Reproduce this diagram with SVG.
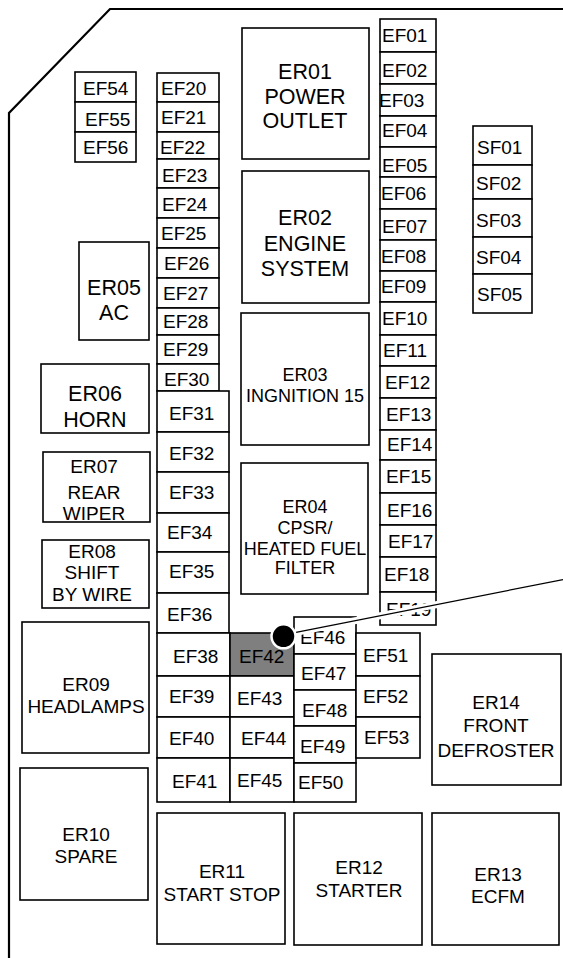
<svg xmlns="http://www.w3.org/2000/svg" width="563" height="958" viewBox="0 0 563 958">
<style>
.b{fill:#fff;stroke:#000;stroke-width:1.6}
.g{fill:#7f7f7f;stroke:#000;stroke-width:1.6}
.t{font-family:"Liberation Sans",Arial,sans-serif;font-size:19px;fill:#000}
.c{text-anchor:middle}
.l{font-size:21.5px}
.m{font-size:18px}
.o{fill:none;stroke:#000;stroke-width:2.2}
</style>
<rect width="563" height="958" fill="#fff"/>
<polyline class="o" points="9,958 9,113 110,9 563,9"/>
<g id="EF54"><rect class="b" x="75" y="72" width="61" height="30"/><text class="t" x="83" y="95">EF54</text></g>
<g id="EF55"><rect class="b" x="75" y="102" width="61" height="30"/><text class="t" x="85" y="126">EF55</text></g>
<g id="EF56"><rect class="b" x="75" y="132" width="61" height="30"/><text class="t" x="83" y="154">EF56</text></g>
<g id="EF20"><rect class="b" x="157" y="73" width="62" height="29"/><text class="t" x="161" y="95">EF20</text></g>
<g id="EF21"><rect class="b" x="157" y="102" width="62" height="30"/><text class="t" x="161" y="124">EF21</text></g>
<g id="EF22"><rect class="b" x="157" y="132" width="62" height="27"/><text class="t" x="160" y="154">EF22</text></g>
<g id="EF23"><rect class="b" x="157" y="159" width="62" height="29"/><text class="t" x="162" y="182">EF23</text></g>
<g id="EF24"><rect class="b" x="157" y="188" width="62" height="30"/><text class="t" x="162" y="211">EF24</text></g>
<g id="EF25"><rect class="b" x="157" y="218" width="62" height="30"/><text class="t" x="161" y="240">EF25</text></g>
<g id="EF26"><rect class="b" x="157" y="248" width="62" height="30"/><text class="t" x="164" y="270">EF26</text></g>
<g id="EF27"><rect class="b" x="157" y="278" width="62" height="30"/><text class="t" x="163" y="300">EF27</text></g>
<g id="EF28"><rect class="b" x="157" y="308" width="62" height="27"/><text class="t" x="163" y="328">EF28</text></g>
<g id="EF29"><rect class="b" x="157" y="335" width="62" height="29"/><text class="t" x="163" y="356">EF29</text></g>
<g id="EF30"><rect class="b" x="157" y="364" width="62" height="27"/><text class="t" x="164" y="386">EF30</text></g>
<g id="EF31"><rect class="b" x="157" y="391" width="72" height="41"/><text class="t" x="169" y="420">EF31</text></g>
<g id="EF32"><rect class="b" x="157" y="432" width="72" height="40"/><text class="t" x="169" y="460">EF32</text></g>
<g id="EF33"><rect class="b" x="157" y="472" width="72" height="41"/><text class="t" x="169" y="499">EF33</text></g>
<g id="EF34"><rect class="b" x="157" y="513" width="72" height="39"/><text class="t" x="167" y="539">EF34</text></g>
<g id="EF35"><rect class="b" x="157" y="552" width="72" height="41"/><text class="t" x="169" y="578">EF35</text></g>
<g id="EF36"><rect class="b" x="157" y="593" width="72" height="40"/><text class="t" x="167" y="621">EF36</text></g>
<g id="EF38"><rect class="b" x="157" y="633" width="73" height="43"/><text class="t" x="173" y="663">EF38</text></g>
<g id="EF39"><rect class="b" x="157" y="676" width="73" height="41"/><text class="t" x="169" y="703">EF39</text></g>
<g id="EF40"><rect class="b" x="157" y="717" width="73" height="41"/><text class="t" x="169" y="745">EF40</text></g>
<g id="EF41"><rect class="b" x="157" y="758" width="73" height="44"/><text class="t" x="172" y="788">EF41</text></g>
<g id="EF42"><rect class="g" x="230" y="633" width="64" height="43"/><text class="t" x="239" y="663">EF42</text></g>
<g id="EF43"><rect class="b" x="230" y="676" width="64" height="41"/><text class="t" x="237" y="705">EF43</text></g>
<g id="EF44"><rect class="b" x="230" y="717" width="64" height="41"/><text class="t" x="241" y="745">EF44</text></g>
<g id="EF45"><rect class="b" x="230" y="758" width="64" height="44"/><text class="t" x="237" y="787">EF45</text></g>
<g id="EF46"><rect class="b" x="294" y="617" width="62" height="37"/><text class="t" x="300" y="644">EF46</text></g>
<g id="EF47"><rect class="b" x="294" y="654" width="62" height="36"/><text class="t" x="301" y="680">EF47</text></g>
<g id="EF48"><rect class="b" x="294" y="690" width="62" height="36"/><text class="t" x="302" y="717">EF48</text></g>
<g id="EF49"><rect class="b" x="294" y="726" width="62" height="37"/><text class="t" x="300" y="753">EF49</text></g>
<g id="EF50"><rect class="b" x="294" y="763" width="62" height="39"/><text class="t" x="298" y="789">EF50</text></g>
<g id="EF51"><rect class="b" x="356" y="633" width="64" height="43"/><text class="t" x="363" y="662">EF51</text></g>
<g id="EF52"><rect class="b" x="356" y="676" width="64" height="41"/><text class="t" x="363" y="703">EF52</text></g>
<g id="EF53"><rect class="b" x="356" y="717" width="64" height="41"/><text class="t" x="364" y="744">EF53</text></g>
<g id="EF01"><rect class="b" x="380" y="19" width="56" height="33"/><text class="t" x="382" y="42">EF01</text></g>
<g id="EF02"><rect class="b" x="380" y="52" width="56" height="32"/><text class="t" x="382" y="77">EF02</text></g>
<g id="EF03"><rect class="b" x="380" y="84" width="56" height="32"/><text class="t" x="379" y="107">EF03</text></g>
<g id="EF04"><rect class="b" x="380" y="116" width="56" height="31"/><text class="t" x="382" y="137">EF04</text></g>
<g id="EF05"><rect class="b" x="380" y="147" width="56" height="30"/><text class="t" x="382" y="172">EF05</text></g>
<g id="EF06"><rect class="b" x="380" y="177" width="56" height="32"/><text class="t" x="381" y="200">EF06</text></g>
<g id="EF07"><rect class="b" x="380" y="209" width="56" height="31"/><text class="t" x="382" y="233">EF07</text></g>
<g id="EF08"><rect class="b" x="380" y="240" width="56" height="31"/><text class="t" x="381" y="263">EF08</text></g>
<g id="EF09"><rect class="b" x="380" y="271" width="56" height="31"/><text class="t" x="381" y="293">EF09</text></g>
<g id="EF10"><rect class="b" x="380" y="302" width="56" height="33"/><text class="t" x="382" y="325">EF10</text></g>
<g id="EF11"><rect class="b" x="380" y="335" width="56" height="31"/><text class="t" x="383" y="357">EF11</text></g>
<g id="EF12"><rect class="b" x="380" y="366" width="56" height="32"/><text class="t" x="385" y="389">EF12</text></g>
<g id="EF13"><rect class="b" x="380" y="398" width="56" height="32"/><text class="t" x="386" y="421">EF13</text></g>
<g id="EF14"><rect class="b" x="380" y="430" width="56" height="30"/><text class="t" x="387" y="451">EF14</text></g>
<g id="EF15"><rect class="b" x="380" y="460" width="56" height="33"/><text class="t" x="386" y="483">EF15</text></g>
<g id="EF16"><rect class="b" x="380" y="493" width="56" height="32"/><text class="t" x="387" y="517">EF16</text></g>
<g id="EF17"><rect class="b" x="380" y="525" width="56" height="32"/><text class="t" x="388" y="548">EF17</text></g>
<g id="EF18"><rect class="b" x="380" y="557" width="56" height="35"/><text class="t" x="384" y="581">EF18</text></g>
<g id="EF19"><rect class="b" x="380" y="592" width="56" height="33"/><text class="t" x="386" y="616">EF19</text></g>
<g id="SF01"><rect class="b" x="473" y="126" width="59" height="39"/><text class="t" x="477" y="154">SF01</text></g>
<g id="SF02"><rect class="b" x="473" y="165" width="59" height="34"/><text class="t" x="476" y="190">SF02</text></g>
<g id="SF03"><rect class="b" x="473" y="199" width="59" height="38"/><text class="t" x="476" y="227">SF03</text></g>
<g id="SF04"><rect class="b" x="473" y="237" width="59" height="37"/><text class="t" x="476" y="264">SF04</text></g>
<g id="SF05"><rect class="b" x="473" y="274" width="59" height="39"/><text class="t" x="477" y="301">SF05</text></g>
<g id="ER01"><rect class="b" x="242" y="28" width="127" height="131"/><text class="t c l" x="305" y="79">ER01</text><text class="t c l" x="305" y="104">POWER</text><text class="t c l" x="305" y="128">OUTLET</text></g>
<g id="ER02"><rect class="b" x="242" y="171" width="127" height="132"/><text class="t c l" x="305" y="225">ER02</text><text class="t c l" x="305" y="251">ENGINE</text><text class="t c l" x="305" y="276">SYSTEM</text></g>
<g id="ER03"><rect class="b" x="241" y="313" width="128" height="132"/><text class="t c m" x="305" y="381">ER03</text><text class="t c m" x="305" y="402">INGNITION 15</text></g>
<g id="ER04"><rect class="b" x="241" y="463" width="127" height="131"/><text class="t c m" x="305" y="513">ER04</text><text class="t c m" x="305" y="534">CPSR/</text><text class="t c m" x="305" y="555">HEATED FUEL</text><text class="t c m" x="305" y="574">FILTER</text></g>
<g id="ER05"><rect class="b" x="79" y="242" width="70" height="98"/><text class="t c l" x="114" y="295">ER05</text><text class="t c l" x="114" y="320">AC</text></g>
<g id="ER06"><rect class="b" x="41" y="364" width="108" height="69"/><text class="t c l" x="95" y="401">ER06</text><text class="t c l" x="95" y="427">HORN</text></g>
<g id="ER07"><rect class="b" x="43" y="452" width="107" height="70"/><text class="t c" x="94" y="473">ER07</text><text class="t c" x="94" y="499">REAR</text><text class="t c" x="94" y="520">WIPER</text></g>
<g id="ER08"><rect class="b" x="42" y="540" width="107" height="68"/><text class="t c" x="92" y="558">ER08</text><text class="t c" x="92" y="579">SHIFT</text><text class="t c" x="92" y="601">BY WIRE</text></g>
<g id="ER09"><rect class="b" x="22" y="622" width="127" height="131"/><text class="t c" x="86" y="691">ER09</text><text class="t c" x="86" y="713">HEADLAMPS</text></g>
<g id="ER10"><rect class="b" x="20" y="768" width="128" height="132"/><text class="t c" x="86" y="841">ER10</text><text class="t c" x="86" y="863">SPARE</text></g>
<g id="ER11"><rect class="b" x="157" y="813" width="128" height="131"/><text class="t c" x="222" y="878">ER11</text><text class="t c" x="222" y="901">START STOP</text></g>
<g id="ER12"><rect class="b" x="294" y="813" width="128" height="132"/><text class="t c" x="359" y="874">ER12</text><text class="t c" x="359" y="897">STARTER</text></g>
<g id="ER13"><rect class="b" x="432" y="813" width="127" height="132"/><text class="t c" x="498" y="881">ER13</text><text class="t c" x="498" y="903">ECFM</text></g>
<g id="ER14"><rect class="b" x="432" y="654" width="129" height="131"/><text class="t c" x="496" y="709">ER14</text><text class="t c" x="496" y="732">FRONT</text><text class="t c" x="496" y="757">DEFROSTER</text></g>
<g id="connectors">
<line x1="296" y1="632.4" x2="563" y2="579.6" stroke="#fff" stroke-width="7"/>
<line x1="296" y1="632.4" x2="563" y2="579.6" stroke="#000" stroke-width="1.2"/>
<circle cx="283.5" cy="636.3" r="12" fill="#000" stroke="#fff" stroke-width="2.5"/>
</g>
</svg>
